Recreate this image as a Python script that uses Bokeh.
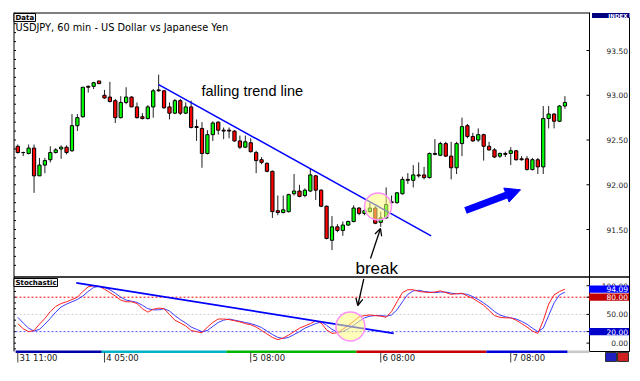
from bokeh.plotting import figure
from bokeh.models import Range1d, Arrow, OpenHead, NormalHead
from bokeh.core.properties import value
from bokeh.embed import file_html
from bokeh.resources import INLINE

# ---------------- data ----------------
opens = [92.43, 92.36, 92.35, 92.41, 92.10, 92.22, 92.28, 92.36, 92.40, 92.42,
         92.38, 92.66, 92.76, 93.10, 93.10, 93.16, 93.00, 92.98, 92.94, 92.75,
         92.92, 92.98, 92.87, 92.76, 92.74, 92.87, 93.06, 93.05, 92.87, 92.80,
         92.94, 92.80, 92.87, 92.65, 92.63, 92.35, 92.56, 92.70, 92.61, 92.61,
         92.60, 92.49, 92.42, 92.47, 92.36, 92.28, 92.24, 92.15, 91.71, 91.69,
         91.70, 91.90, 91.93, 91.88, 91.93, 92.10, 91.94, 91.76, 91.38, 91.53,
         91.49, 91.55, 91.59, 91.74, 91.68, 91.70, 91.74, 91.58, 91.63, 91.81,
         91.80, 91.90, 92.06, 92.05, 92.11, 92.11, 92.08, 92.35, 92.33, 92.46,
         92.32, 92.19, 92.46, 92.66, 92.54, 92.50, 92.56, 92.43, 92.39, 92.32,
         92.35, 92.35, 92.38, 92.29, 92.29, 92.17, 92.28, 92.20, 92.74, 92.79,
         92.71, 92.88]
highs = [92.45, 92.37, 92.45, 92.45, 92.30, 92.30, 92.43, 92.41, 92.44, 92.44,
         92.79, 92.79, 93.09, 93.11, 93.15, 93.16, 93.06, 93.15, 92.96, 92.99,
         93.09, 92.99, 92.92, 92.80, 92.89, 93.07, 93.23, 93.06, 92.92, 92.96,
         92.96, 92.92, 92.94, 92.73, 92.70, 92.61, 92.71, 92.71, 92.64, 92.64,
         92.61, 92.55, 92.55, 92.52, 92.38, 92.31, 92.25, 92.16, 91.88, 91.88,
         91.90, 92.12, 92.00, 91.96, 92.18, 92.11, 91.95, 91.77, 91.65, 91.56,
         91.59, 91.60, 91.77, 91.75, 91.76, 91.80, 91.76, 91.70, 91.97, 91.88,
         91.92, 92.09, 92.13, 92.22, 92.25, 92.20, 92.36, 92.51, 92.48, 92.48,
         92.48, 92.48, 92.75, 92.68, 92.58, 92.63, 92.57, 92.48, 92.41, 92.36,
         92.37, 92.42, 92.39, 92.32, 92.32, 92.30, 92.30, 92.88, 92.88, 92.80,
         92.89, 92.99]
lows = [92.35, 92.32, 92.34, 91.91, 92.10, 92.13, 92.25, 92.35, 92.29, 92.34,
        92.37, 92.60, 92.75, 93.03, 93.07, 93.13, 92.96, 92.92, 92.69, 92.74,
        92.90, 92.87, 92.74, 92.73, 92.73, 92.75, 93.04, 92.85, 92.73, 92.79,
        92.78, 92.79, 92.63, 92.49, 92.19, 92.34, 92.49, 92.56, 92.51, 92.52,
        92.48, 92.40, 92.41, 92.36, 92.13, 92.23, 92.14, 91.63, 91.66, 91.68,
        91.69, 91.88, 91.86, 91.86, 91.92, 91.83, 91.75, 91.39, 91.27, 91.47,
        91.43, 91.54, 91.58, 91.66, 91.66, 91.69, 91.56, 91.53, 91.62, 91.78,
        91.79, 91.89, 92.01, 91.97, 92.08, 92.06, 92.07, 92.33, 92.32, 92.31,
        92.06, 92.12, 92.32, 92.52, 92.48, 92.48, 92.27, 92.38, 92.30, 92.30,
        92.31, 92.22, 92.27, 92.27, 92.16, 92.16, 92.12, 92.12, 92.63, 92.63,
        92.70, 92.85]
closes = [92.36, 92.36, 92.41, 92.10, 92.22, 92.27, 92.36, 92.39, 92.42, 92.36,
          92.66, 92.75, 93.09, 93.09, 93.14, 93.13, 92.97, 92.93, 92.75, 92.92,
          92.98, 92.87, 92.75, 92.74, 92.87, 93.05, 93.05, 92.86, 92.80, 92.94,
          92.80, 92.87, 92.64, 92.64, 92.35, 92.56, 92.69, 92.61, 92.60, 92.60,
          92.49, 92.42, 92.48, 92.37, 92.27, 92.25, 92.15, 91.70, 91.69, 91.72,
          91.89, 91.93, 91.87, 91.94, 92.11, 91.94, 91.76, 91.40, 91.53, 91.49,
          91.55, 91.59, 91.74, 91.68, 91.71, 91.74, 91.57, 91.63, 91.78, 91.80,
          91.91, 92.06, 92.05, 92.11, 92.10, 92.08, 92.35, 92.34, 92.46, 92.32,
          92.19, 92.46, 92.65, 92.54, 92.49, 92.56, 92.43, 92.39, 92.31, 92.35,
          92.34, 92.38, 92.28, 92.28, 92.17, 92.28, 92.20, 92.74, 92.79, 92.71,
          92.88, 92.92]

stoch_main = [34, 25, 20, 22, 33, 43, 55, 64, 69, 72, 76, 80, 90, 98, 100, 99, 94, 88, 82, 75,
              72, 72, 69, 60, 54, 59, 61, 60, 50, 40, 35, 30, 22, 20, 18, 28, 36, 42, 42, 41,
              39, 37, 34, 32, 28, 22, 16, 10, 6, 9, 14, 20, 26, 30, 34, 39, 35, 23, 17, 18,
              24, 31, 38, 46, 48, 49, 48, 47, 45, 55, 72, 88, 93, 93, 90, 89, 88, 89, 91, 88,
              85, 86, 87, 82, 78, 72, 66, 57, 48, 45, 44, 44, 40, 34, 28, 21, 17, 39, 68, 84,
              90, 94]
stoch_signal = [45, 35, 26, 21, 24, 33, 43, 54, 63, 68, 72, 76, 82, 90, 97, 99, 97, 93, 87, 80,
                75, 73, 71, 66, 60, 58, 58, 60, 56, 48, 41, 35, 28, 24, 20, 22, 29, 36, 40, 42,
                40, 38, 36, 34, 31, 27, 21, 15, 10, 8, 10, 15, 20, 26, 30, 34, 37, 31, 24, 19,
                20, 25, 31, 38, 44, 47, 48, 48, 47, 49, 58, 72, 85, 91, 92, 90, 89, 88, 89, 89,
                87, 86, 86, 85, 81, 76, 70, 63, 55, 49, 46, 44, 42, 38, 33, 26, 20, 26, 48, 70,
                84, 89]

price_ticks = [93.5, 93.0, 92.5, 92.0, 91.5]
price_tick_labels = ["93.50", "93.00", "92.50", "92.00", "91.50"]
stoch_plain_ticks = [100, 50, 0]
stoch_plain_labels = ["100.00", "50.00", "0.00"]
stoch_box_values = [94.09, 80, 20]
stoch_box_labels = ["94.09", "80.00", "20.00"]
stoch_box_colors = ["#0000ff", "#c00000", "#0000c8"]
stoch_levels = [80, 50, 20]
stoch_level_colors = ["#ff0000", "#d0d0d0", "#5050ff"]

time_tick_idx = [0, 16, 43, 67, 91]
time_tick_labels = ["31 11:00", "4 05:00", "5 08:00", "6 08:00", "7 08:00"]
day_bounds = [-0.4, 15.5, 38.5, 62.5, 86.5, 101.5, 105.5]
day_colors = ["#0000a8", "#00b4c8", "#00b400", "#c80000", "#0000d8", "#c8c8c8"]

trend_x = [26.0, 76.3]
trend_y = [93.12, 91.43]
stoch_trend_x = [10.8, 69.4]
stoch_trend_y = [105.0, 17.0]
break_price = (66.5, 91.757)
break_stoch = (61.4, 29.0)

# ---------------- layout helpers (image pixel -> data) ----------------
W, H = 636, 376
OFF = 0
X0, DX = 17.3, 5.417
P0, PY = 94.059, 89.5
S80, SY = 296.7, 0.574


def ix(px):
    return (px - X0) / DX


def py(px):
    return P0 - px / PY


def sy(px):
    return 80 - (px - S80) / SY


p = figure(width=W, height=H, output_backend="svg", toolbar_location=None,
           x_range=Range1d(ix(OFF), ix(OFF + W)), y_range=Range1d(py(OFF + H), py(OFF)),
           x_axis_location=None, y_axis_location=None, min_border=0,
           outline_line_color=None, background_fill_color="white",
           border_fill_color="white")
p.extra_y_ranges = {"st": Range1d(sy(OFF + H), sy(OFF))}
for g in p.grid:
    g.visible = False

FONT = value("DejaVu Sans")
ARIAL = value("Liberation Sans")

n = len(opens)
xs = list(range(n))
tops = [max(o, c) for o, c in zip(opens, closes)]
bots = [min(o, c) for o, c in zip(opens, closes)]
cols = ["#00ff00" if c > o else ("#ff0000" if c < o else "#000000") for o, c in zip(opens, closes)]

# ---------- frames ----------
L, R, RR = ix(13.5), ix(589), ix(629)
p.segment(x0=[L], y0=[py(12.5)], x1=[R], y1=[py(12.5)], line_color="black", line_width=1)
p.segment(x0=[L], y0=[py(12)], x1=[L], y1=[py(351)], line_color="black", line_width=1)
p.segment(x0=[R], y0=[py(12)], x1=[R], y1=[py(351)], line_color="black", line_width=1)
p.segment(x0=[RR], y0=[py(17)], x1=[RR], y1=[py(351)], line_color="black", line_width=1)
p.segment(x0=[L], y0=[py(276.5)], x1=[RR], y1=[py(276.5)], line_color="black", line_width=1.5)
p.segment(x0=[R], y0=[py(351)], x1=[RR], y1=[py(351)], line_color="black", line_width=1)

# left minor ticks (price every 0.1, stochastic every 10)
tick_prices = [round(91.1 + 0.1 * k, 2) for k in range(29)]
p.segment(x0=[L] * len(tick_prices), y0=tick_prices, x1=[ix(15.5)] * len(tick_prices), y1=tick_prices,
          line_color="black", line_width=1)
tick_st = [-10 + 10 * k for k in range(12)]
p.segment(x0=[L] * len(tick_st), y0=tick_st, x1=[ix(15.5)] * len(tick_st), y1=tick_st,
          line_color="black", line_width=1, y_range_name="st")
# right ticks
p.segment(x0=[ix(586)] * len(price_ticks), y0=price_ticks, x1=[R] * len(price_ticks), y1=price_ticks,
          line_color="black", line_width=1)

# ---------- candles ----------
p.segment(x0=xs, y0=lows, x1=xs, y1=highs, line_color="#202020", line_width=1)
p.vbar(x=xs, width=0.6, top=tops, bottom=bots, fill_color=cols, line_color="black", line_width=1)

# ---------- trend line & annotations on price ----------
p.line(trend_x, trend_y, line_color="#0000ff", line_width=1.5)
p.scatter([break_price[0]], [break_price[1]], marker="circle", size=27,
          fill_color="#ffff80", fill_alpha=0.55, line_color="#ff90ff", line_width=1.5)
p.text(x=[ix(201)], y=[py(90)], text=["falling trend line"], text_font=ARIAL,
       text_font_size=value("14.5px"), text_baseline="middle", text_align="left", text_color="black")
p.text(x=[ix(355)], y=[py(268)], text=["break"], text_font=ARIAL,
       text_font_size=value("17px"), text_baseline="middle", text_align="left", text_color="black")
p.add_layout(Arrow(x_start=ix(370), y_start=py(258), x_end=ix(380), y_end=py(228),
                   line_color="black", line_width=1.3,
                   end=OpenHead(size=7, line_color="black", line_width=1.3)))
p.add_layout(Arrow(x_start=ix(363.3), y_start=sy(278.3), x_end=ix(357.3), y_end=sy(305),
                   line_color="black", line_width=1.3, y_range_name="st",
                   end=OpenHead(size=7, line_color="black", line_width=1.3)))
p.add_layout(Arrow(x_start=ix(465), y_start=py(210), x_end=ix(520), y_end=py(189.3),
                   line_color="#0000ff", line_width=7, line_cap="butt",
                   end=NormalHead(size=15, fill_color="#0000ff", line_color="#0000ff")))

# ---------- title & boxes ----------
p.quad(left=[ix(13.5)], right=[ix(35)], top=[py(13)], bottom=[py(21)],
       fill_color="#f4f4f4", line_color="black", line_width=1)
p.text(x=[ix(15)], y=[py(17.2)], text=["Data"], text_font=FONT, text_font_style="bold",
       text_font_size=value("7px"), text_baseline="middle", text_color="black")
p.text(x=[ix(15)], y=[py(27.3)], text=["USDJPY, 60 min - US Dollar vs Japanese Yen"], text_font=FONT,
       text_font_size=value("9.8px"), text_baseline="middle", text_color="black")
p.quad(left=[ix(591.5)], right=[ix(629)], top=[py(12.5)], bottom=[py(17.5)],
       fill_color="#000080", line_color=None)
p.text(x=[ix(627)], y=[py(15.2)], text=["INDEX"], text_font=FONT, text_font_style="bold",
       text_font_size=value("5.5px"), text_baseline="middle", text_align="right", text_color="white")

# price labels
p.text(x=[ix(627.5)] * len(price_ticks), y=price_ticks, text=price_tick_labels, text_font=FONT,
       text_font_size=value("7.5px"), text_baseline="middle", text_align="right", text_color="#202020")

# ---------- stochastic ----------
p.quad(left=[ix(13.5)], right=[ix(57)], top=[sy(278)], bottom=[sy(286)],
       fill_color="#f4f4f4", line_color="black", line_width=1, y_range_name="st")
p.text(x=[ix(15)], y=[sy(282.2)], text=["Stochastic"], text_font=FONT, text_font_style="bold",
       text_font_size=value("7px"), text_baseline="middle", text_color="black", y_range_name="st")
for lv, lc in zip(stoch_levels, stoch_level_colors):
    p.segment(x0=[ix(15)], y0=[lv], x1=[R], y1=[lv], line_color=lc, line_width=1,
              line_dash="2 2", y_range_name="st")
p.line(xs, stoch_signal, line_color="#3c3cff", line_width=1, y_range_name="st")
p.line(xs, stoch_main, line_color="#ff2020", line_width=1, y_range_name="st")
p.line(stoch_trend_x, stoch_trend_y, line_color="#0000ff", line_width=1.8, y_range_name="st")
p.scatter([break_stoch[0]], [break_stoch[1]], marker="circle", size=29,
          fill_color="#ffff80", fill_alpha=0.55, line_color="#ff90ff", line_width=1.5, y_range_name="st")
p.segment(x0=[ix(586)] * 5, y0=[100, 80, 50, 20, 0], x1=[R] * 5, y1=[100, 80, 50, 20, 0],
          line_color="black", line_width=1, y_range_name="st")
p.text(x=[ix(627.5)] * len(stoch_plain_ticks), y=stoch_plain_ticks, text=stoch_plain_labels,
       text_font=FONT, text_font_size=value("7.5px"), text_baseline="middle", text_align="right",
       text_color="#202020", y_range_name="st")
p.rect(x=[ix(608.5)] * 3, y=stoch_box_values, width=ix(628.5) - ix(588.5), height=7.2 / SY,
       fill_color=stoch_box_colors, line_color=None, y_range_name="st")
p.text(x=[ix(627.5)] * 3, y=stoch_box_values, text=stoch_box_labels,
       text_font=FONT, text_font_size=value("7.5px"), text_baseline="middle", text_align="right",
       text_color="white", y_range_name="st")

# ---------- time axis ----------
p.quad(left=day_bounds[:-1], right=day_bounds[1:], top=[py(350)] * 6, bottom=[py(352.6)] * 6,
       fill_color=day_colors, line_color=None)
p.segment(x0=time_tick_idx, y0=[py(352)] * 5, x1=time_tick_idx, y1=[py(362)] * 5,
          line_color="#404040", line_width=1)
p.text(x=[t + ix(19) - ix(17.3) for t in time_tick_idx], y=[py(357.5)] * 5, text=time_tick_labels,
       text_font=FONT, text_font_size=value("8.5px"), text_baseline="middle", text_align="left",
       text_color="#202020")
# small icons bottom right
p.quad(left=[ix(605), ix(617)], right=[ix(616), ix(628)], top=[py(352)] * 2, bottom=[py(361)] * 2,
       fill_color=["#2020c0", "#d02020"], line_color="#303030", line_width=1)

open("out.html", "w").write(file_html(p, INLINE))
